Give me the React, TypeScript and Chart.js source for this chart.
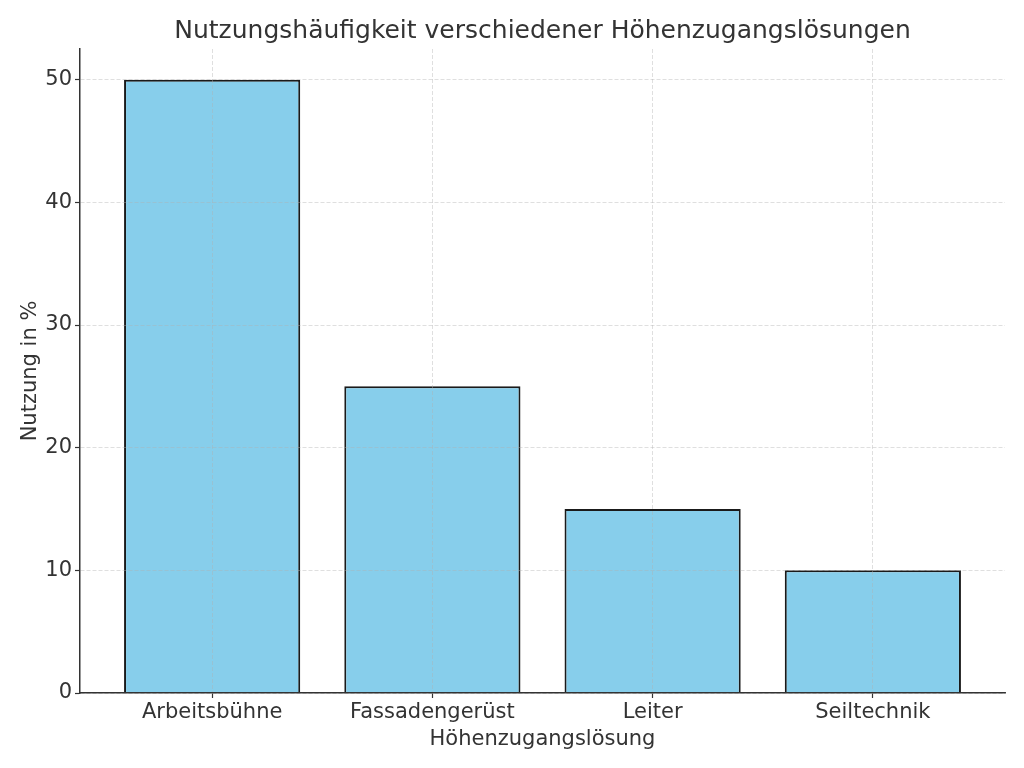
import React, { useEffect, useRef } from "react";
import { Chart, registerables } from "chart.js";

Chart.register(...registerables);

const categories = ["Arbeitsbühne", "Fassadengerüst", "Leiter", "Seiltechnik"];
const usage = [50, 25, 15, 10];
const yTicks = [0, 10, 20, 30, 40, 50];

const TEXT = "#333333";
const FONT = "'DejaVu Sans', sans-serif";
const GRID = "rgba(176,176,176,0.45)";

export default function App() {
  const ref = useRef<HTMLCanvasElement>(null);
  useEffect(() => {
    document.body.style.margin = "0";
    const ctx = ref.current!;
    const chart = new Chart(ctx, {
      type: "bar",
      data: {
        datasets: [
          {
            data: usage.map((v, i) => ({ x: i, y: v })),
            backgroundColor: "#87CEEB",
            borderColor: "#1a1a1a",
            borderWidth: 2,
            categoryPercentage: 1,
            barPercentage: 0.8,
          },
        ],
      },
      options: {
        animation: false,
        responsive: false,
        maintainAspectRatio: false,
        layout: { padding: { left: 8, right: 19, top: 1, bottom: 16 } },
        plugins: {
          legend: { display: false },
          tooltip: { enabled: false },
          title: {
            display: true,
            text: "Nutzungshäufigkeit verschiedener Höhenzugangslösungen",
            color: TEXT,
            font: { family: FONT, size: 25, weight: "normal" },
            padding: { top: 15, bottom: 3 },
            fullSize: false,
          },
        },
        scales: {
          x: {
            type: "linear",
            position: "bottom",
            min: -0.6,
            max: 3.6,
            offset: false,
            afterBuildTicks: (s: any) => {
              s.ticks = categories.map((_, i) => ({ value: i }));
            },
            afterFit: (s: any) => {
              s.height = 59;
            },
            ticks: {
              color: TEXT,
              font: { family: FONT, size: 21 },
              padding: 2,
              maxRotation: 0,
              autoSkip: false,
              callback: (v: any) => categories[v as number] ?? "",
            },
            grid: {
              z: 1,
              offset: false,
              color: GRID,
              lineWidth: 0.9,
              tickColor: TEXT,
              tickLength: 5,
              tickWidth: 1.2,
              tickBorderDash: [],
            },
            border: { display: true, color: TEXT, width: 1.5, dash: [4, 2], z: 2 },
            title: {
              display: true,
              text: "Höhenzugangslösung",
              color: TEXT,
              font: { family: FONT, size: 21 },
              padding: { top: 0, bottom: 0 },
            },
          },
          y: {
            type: "linear",
            position: "left",
            min: 0,
            max: 52.5,
            afterBuildTicks: (s: any) => {
              s.ticks = yTicks.map((v) => ({ value: v }));
            },
            afterFit: (s: any) => {
              s.width = 72;
            },
            ticks: {
              color: TEXT,
              font: { family: FONT, size: 21 },
              padding: 3,
            },
            grid: {
              z: 1,
              color: GRID,
              lineWidth: 0.9,
              tickColor: TEXT,
              tickLength: 5,
              tickWidth: 1.2,
              tickBorderDash: [],
            },
            border: { display: true, color: TEXT, width: 1.5, dash: [4, 2], z: 2 },
            title: {
              display: true,
              text: "Nutzung in %",
              color: TEXT,
              font: { family: FONT, size: 21 },
              padding: { top: 10, bottom: 0 },
            },
          },
        },
      },
    } as any);
    return () => chart.destroy();
  }, []);
  return (
    <div style={{ width: 1024, height: 768 }}>
      <canvas ref={ref} width={1024} height={768} />
    </div>
  );
}
